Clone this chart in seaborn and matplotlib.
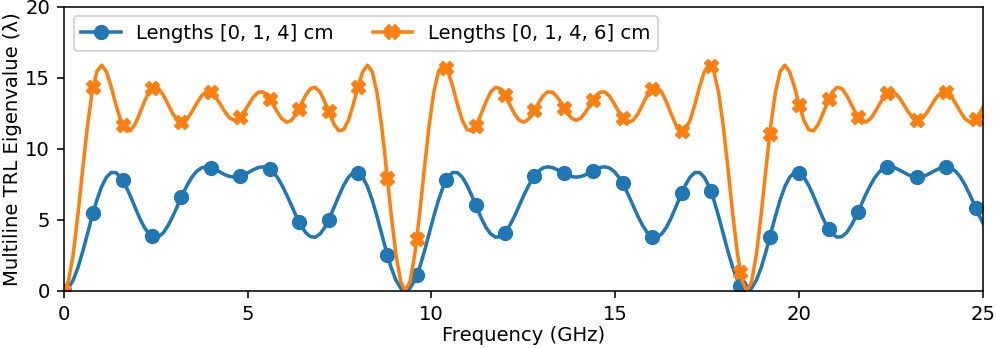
import numpy as np
import matplotlib
matplotlib.use("Agg")
import matplotlib.pyplot as plt
from matplotlib.lines import Line2D
import seaborn as sns

# ---- data ----
# fine line samples, spacing 9.29/72 GHz starting at 0 GHz
line_step_ghz = 9.29 / 72
blue_line = [
    0.00, 0.20, 0.77, 1.65, 2.77, 4.02, 5.27, 6.41, 7.35, 8.00,
    8.33, 8.32, 8.00, 7.43, 6.70, 5.90, 5.12, 4.46, 4.00, 3.78,
    3.82, 4.10, 4.61, 5.26, 6.00, 6.75, 7.43, 8.00, 8.41, 8.65,
    8.73, 8.68, 8.53, 8.35, 8.17, 8.05, 8.00, 8.05, 8.17, 8.35,
    8.53, 8.68, 8.73, 8.65, 8.41, 8.00, 7.43, 6.75, 6.00, 5.26,
    4.61, 4.10, 3.82, 3.78, 4.00, 4.46, 5.12, 5.90, 6.70, 7.43,
    8.00, 8.32, 8.33, 8.00, 7.35, 6.41, 5.27, 4.02, 2.77, 1.65,
    0.77, 0.20, 0.00,
    0.20, 0.77, 1.65, 2.77, 4.02, 5.27, 6.41, 7.35, 8.00, 8.33,
    8.32, 8.00, 7.43, 6.70, 5.90, 5.12, 4.46, 4.00, 3.78, 3.82,
    4.10, 4.61, 5.26, 6.00, 6.75, 7.43, 8.00, 8.41, 8.65, 8.73,
    8.68, 8.53, 8.35, 8.17, 8.05, 8.00, 8.05, 8.17, 8.35, 8.53,
    8.68, 8.73, 8.65, 8.41, 8.00, 7.43, 6.75, 6.00, 5.26, 4.61,
    4.10, 3.82, 3.78, 4.00, 4.46, 5.12, 5.90, 6.70, 7.43, 8.00,
    8.32, 8.33, 8.00, 7.35, 6.41, 5.27, 4.02, 2.77, 1.65, 0.77,
    0.20, 0.00,
    0.20, 0.77, 1.65, 2.77, 4.02, 5.27, 6.41, 7.35, 8.00, 8.33,
    8.32, 8.00, 7.43, 6.70, 5.90, 5.12, 4.46, 4.00, 3.78, 3.82,
    4.10, 4.61, 5.26, 6.00, 6.75, 7.43, 8.00, 8.41, 8.65, 8.73,
    8.68, 8.53, 8.35, 8.17, 8.05, 8.00, 8.05, 8.17, 8.35, 8.53,
    8.68, 8.73, 8.65, 8.41, 8.00, 7.43, 6.75, 6.00, 5.26, 4.61,
]
orange_line = [
    0.00, 0.68, 2.60, 5.40, 8.59, 11.61, 14.00, 15.45, 15.88, 15.41,
    14.36, 13.09, 12.00, 11.35, 11.26, 11.70, 12.47, 13.32, 14.00, 14.32,
    14.23, 13.77, 13.11, 12.45, 12.00, 11.87, 12.10, 12.59, 13.18, 13.71,
    14.00, 13.98, 13.65, 13.13, 12.58, 12.16, 12.00, 12.16, 12.58, 13.13,
    13.65, 13.98, 14.00, 13.71, 13.18, 12.59, 12.10, 11.87, 12.00, 12.45,
    13.11, 13.77, 14.23, 14.32, 14.00, 13.32, 12.47, 11.70, 11.26, 11.35,
    12.00, 13.09, 14.36, 15.41, 15.88, 15.45, 14.00, 11.61, 8.59, 5.40,
    2.60, 0.68, 0.00,
    0.68, 2.60, 5.40, 8.59, 11.61, 14.00, 15.45, 15.88, 15.41, 14.36,
    13.09, 12.00, 11.35, 11.26, 11.70, 12.47, 13.32, 14.00, 14.32, 14.23,
    13.77, 13.11, 12.45, 12.00, 11.87, 12.10, 12.59, 13.18, 13.71, 14.00,
    13.98, 13.65, 13.13, 12.58, 12.16, 12.00, 12.16, 12.58, 13.13, 13.65,
    13.98, 14.00, 13.71, 13.18, 12.59, 12.10, 11.87, 12.00, 12.45, 13.11,
    13.77, 14.23, 14.32, 14.00, 13.32, 12.47, 11.70, 11.26, 11.35, 12.00,
    13.09, 14.36, 15.41, 15.88, 15.45, 14.00, 11.61, 8.59, 5.40, 2.60,
    0.68, 0.00,
    0.68, 2.60, 5.40, 8.59, 11.61, 14.00, 15.45, 15.88, 15.41, 14.36,
    13.09, 12.00, 11.35, 11.26, 11.70, 12.47, 13.32, 14.00, 14.32, 14.23,
    13.77, 13.11, 12.45, 12.00, 11.87, 12.10, 12.59, 13.18, 13.71, 14.00,
    13.98, 13.65, 13.13, 12.58, 12.16, 12.00, 12.16, 12.58, 13.13, 13.65,
    13.98, 14.00, 13.71, 13.18, 12.59, 12.10, 11.87, 12.00, 12.45, 13.11,
]

# marker samples every 0.8 GHz
marker_freq = [round(0.8 * k, 1) for k in range(32)]
blue_markers = [
    0.00, 5.51, 7.80, 3.84, 6.60, 8.68, 8.06, 8.58, 4.85, 4.98,
    8.33, 2.54, 1.09, 7.78, 6.06, 4.10, 8.10, 8.27, 8.46, 7.56,
    3.82, 6.86, 7.00, 0.38, 3.76, 8.32, 4.35, 5.55, 8.72, 8.00,
    8.73, 5.85,
]
orange_markers = [
    0.00, 14.37, 11.68, 14.24, 11.87, 13.98, 12.22, 13.52, 12.83, 12.64,
    14.36, 7.95, 3.64, 15.69, 11.58, 13.77, 12.70, 12.90, 13.46, 12.18,
    14.23, 11.24, 15.83, 1.32, 11.04, 13.09, 13.48, 12.24, 13.92, 12.01,
    14.00, 12.07,
]

labels = ["Lengths [0, 1, 4] cm", "Lengths [0, 1, 4, 6] cm"]
x_ticks = [0, 5, 10, 15, 20, 25]
y_ticks = [0, 5, 10, 15, 20]

line_freq = np.arange(len(blue_line)) * line_step_ghz

# ---- plot ----
c_blue = "#1f77b4"
c_orange = "#ff7f0e"
plt.rcParams["font.size"] = 10

fig, ax = plt.subplots(figsize=(996 / 141, 348 / 141), dpi=141)
fig.subplots_adjust(left=0.064, right=0.987, top=0.981, bottom=0.164)

lw = 1.8
sns.lineplot(x=line_freq, y=blue_line, ax=ax, color=c_blue, linewidth=lw,
             zorder=2.0, legend=False, estimator=None, sort=False)
sns.scatterplot(x=marker_freq, y=blue_markers, ax=ax, color=c_blue, marker="o",
                s=46, edgecolor=c_blue, linewidth=1, zorder=2.1, legend=False)
sns.lineplot(x=line_freq, y=orange_line, ax=ax, color=c_orange, linewidth=lw,
             zorder=2.2, legend=False, estimator=None, sort=False)
sns.scatterplot(x=marker_freq, y=orange_markers, ax=ax, color=c_orange, marker="X",
                s=46, edgecolor=c_orange, linewidth=1, zorder=2.3, legend=False)

ax.set_xlim(0, 25)
ax.set_ylim(0, 20)
ax.set_xticks(x_ticks)
ax.set_yticks(y_ticks)
ax.set_xlabel("Frequency (GHz)", labelpad=1)
ax.set_ylabel("Multiline TRL Eigenvalue (λ)", labelpad=1.5)

handles = [
    Line2D([], [], color=c_blue, marker="o", linewidth=lw, markersize=6.8),
    Line2D([], [], color=c_orange, marker="X", linewidth=lw, markersize=6.8),
]
ax.legend(handles, labels, loc="upper left", ncol=2)

fig.savefig("out.png", dpi=141)
